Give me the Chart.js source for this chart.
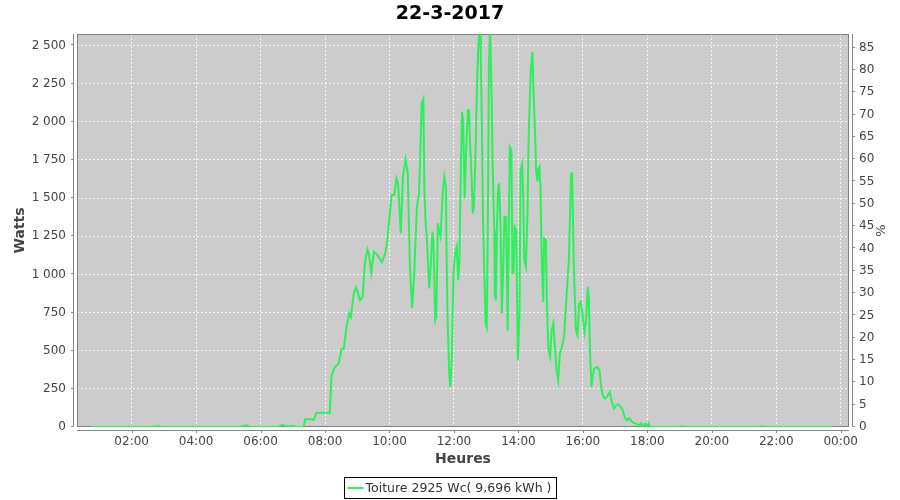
<!DOCTYPE html>
<html>
<head>
<meta charset="utf-8">
<script src="https://cdn.jsdelivr.net/npm/chart.js@4.4.1/dist/chart.umd.min.js"></script>
<style>
html,body{margin:0;padding:0;background:#fff;}
#wrap{width:900px;height:500px;}
</style>
</head>
<body>
<div id="wrap"><canvas id="c" width="900" height="500"></canvas></div>
<script>
const chartTitle = '22-3-2017';
const seriesLabel = 'Toiture 2925 Wc( 9,696 kWh )';
const xAxisTitle = 'Heures';
const yAxisTitle = 'Watts';
const y2AxisTitle = '%';
const peakPower = 2925;

const times = ['00:44','02:34','02:49','02:58','05:22','05:33','05:42','06:32','06:40','06:48','06:59','07:07',
'07:20','07:23','07:32','07:39','07:44','08:09','08:12','08:18','08:25','08:31','08:35','08:40','08:45','08:48',
'08:54','08:58','09:05','09:10','09:14','09:19','09:22','09:26','09:31','09:36','09:46','09:52','09:56','10:00',
'10:04','10:09','10:13','10:16','10:21','10:25','10:30','10:34','10:38','10:42','10:46','10:51','10:55','11:00',
'11:03','11:05','11:07','11:10','11:14','11:17','11:20','11:22','11:25','11:27','11:30','11:32','11:35','11:39',
'11:42','11:45','11:46','11:48','11:51','11:53','11:56','11:59','12:02','12:05','12:08','12:10','12:13','12:15',
'12:17','12:20','12:23','12:26','12:28','12:30','12:33','12:35','12:37','12:40','12:42','12:45','12:47','12:49',
'12:50','12:52','12:54','12:57','12:59','13:01','13:03','13:05','13:07','13:08','13:10','13:12','13:15','13:16',
'13:18','13:20','13:22','13:24','13:27','13:29','13:32','13:34','13:37','13:40','13:42','13:44','13:47','13:49',
'13:51','13:53','13:56','13:59','14:02','14:04','14:07','14:09','14:11','14:14','14:17','14:19','14:23','14:26',
'14:28','14:31','14:33','14:35','14:36','14:39','14:41','14:43','14:46','14:48','14:51','14:53','14:56','14:59',
'15:02','15:05','15:08','15:11','15:14','15:17','15:21','15:25','15:28','15:31','15:34','15:38','15:40','15:43',
'15:47','15:50','15:53','15:56','16:00','16:03','16:06','16:09','16:11','16:13','16:16','16:18','16:21','16:27',
'16:31','16:34','16:37','16:41','16:45','16:50','16:54','16:58','17:02','17:06','17:10','17:14','17:18','17:22',
'17:26','17:31','17:35','17:40','17:44','17:48','17:52','17:56','17:59','18:02','18:05','19:00','19:04','19:08',
'21:30','21:34','21:38','23:45'];

const watts = [0,0,5,0,0,10,0,0,12,3,8,0,
0,50,50,47,94,94,338,391,413,512,514,656,743,721,
885,915,830,852,1072,1164,1126,1009,1148,1133,1081,1137,1225,1377,
1520,1520,1629,1596,1268,1640,1753,1661,1050,780,1007,1443,1530,2120,
2150,1550,1355,1205,908,1072,1280,1205,700,722,1335,1290,1246,1530,
1640,1574,1205,722,372,262,437,1007,1137,1181,962,1072,1725,2064,
2010,1497,1857,2075,2075,1857,1617,1399,1443,1770,2120,2468,2590,2560,
2382,1989,1376,939,677,654,1290,2360,2590,2512,2185,1725,1290,875,
830,1290,1552,1596,1290,743,1072,1377,1377,633,1290,1835,1813,1007,
1007,1312,1290,437,743,1683,1725,1508,1094,1050,1421,1900,2338,2457,
2206,1922,1683,1617,1683,1705,1574,1181,820,1235,1225,810,505,460,
634,678,525,372,306,481,525,590,765,940,1094,1661,1661,1072,
634,602,809,820,721,623,700,918,852,525,262,328,383,394,
372,262,208,186,197,230,164,120,142,148,134,110,64,43,
58,38,25,21,5,25,3,21,3,25,0,0,5,0,
0,4,0,0];

const xTickHours = [2,4,6,8,10,12,14,16,18,20,22,24];
const wattTicks = [0,250,500,750,1000,1250,1500,1750,2000,2250,2500];
const percentTicks = [0,5,10,15,20,25,30,35,40,45,50,55,60,65,70,75,80,85];

const xMinHour = 0.304, xMaxHour = 24.257;
const wattMax = 2575;

function toHours(t){ const p = t.split(':'); return (+p[0]) + (+p[1])/60; }
const points = times.map((t,i)=>({x: toHours(t), y: watts[i]}));

function fmtWatt(v){
  if (v >= 1000) return Math.floor(v/1000) + ' ' + String(v%1000).padStart(3,'0');
  return String(v);
}
function fmtHour(v){ return String(v%24).padStart(2,'0') + ':00'; }

const FONT = 'DejaVu Sans';
const tickColor = '#444444';
const axisColor = '#888888';

const decor = {
  id: 'decor',
  beforeDraw(chart){
    const {ctx, chartArea:a} = chart;
    ctx.save();
    ctx.fillStyle = '#ffffff';
    ctx.fillRect(0,0,chart.width,chart.height);
    ctx.fillStyle = '#cccccc';
    ctx.fillRect(a.left, a.top, a.right-a.left, a.bottom-a.top);
    ctx.restore();
  },
  beforeDatasetsDraw(chart){
    const {ctx, chartArea:a} = chart;
    ctx.save();
    ctx.strokeStyle = '#808080';
    ctx.lineWidth = 1;
    ctx.strokeRect(a.left+0.5, a.top+0.5, a.right-a.left-1, a.bottom-a.top-1);
    ctx.restore();
  },
  afterDraw(chart){
    const {ctx, chartArea:a, scales} = chart;
    ctx.save();
    ctx.strokeStyle = axisColor;
    ctx.lineWidth = 1;
    const lx = a.left - 3.5;
    ctx.beginPath(); ctx.moveTo(lx, a.top); ctx.lineTo(lx, a.bottom); ctx.stroke();
    scales.y.ticks.forEach(t=>{ const p = Math.round(scales.y.getPixelForValue(t.value))-0.5;
      ctx.beginPath(); ctx.moveTo(lx-2.5,p); ctx.lineTo(lx,p); ctx.stroke(); });
    const rx = a.right + 3.5;
    ctx.beginPath(); ctx.moveTo(rx, a.top); ctx.lineTo(rx, a.bottom); ctx.stroke();
    scales.y1.ticks.forEach(t=>{ const p = Math.round(scales.y1.getPixelForValue(t.value))-0.5;
      ctx.beginPath(); ctx.moveTo(rx,p); ctx.lineTo(rx+2.5,p); ctx.stroke(); });
    const by = a.bottom + 3.5;
    ctx.beginPath(); ctx.moveTo(a.left, by); ctx.lineTo(a.right, by); ctx.stroke();
    scales.x.ticks.forEach(t=>{ const p = Math.round(scales.x.getPixelForValue(t.value))+0.5;
      ctx.beginPath(); ctx.moveTo(p,by); ctx.lineTo(p,by+2.5); ctx.stroke(); });

    ctx.fillStyle = '#000000';
    ctx.font = 'bold 19px "' + FONT + '"';
    ctx.textAlign = 'center'; ctx.textBaseline = 'middle';
    ctx.fillText(chartTitle, chart.width/2, 14);

    ctx.fillStyle = tickColor;
    ctx.font = 'bold 14px "' + FONT + '"';
    ctx.fillText(xAxisTitle, (a.left+a.right)/2, 459);
    ctx.save();
    ctx.translate(20, (a.top+a.bottom)/2);
    ctx.rotate(-Math.PI/2);
    ctx.fillText(yAxisTitle, 0, 0);
    ctx.restore();
    ctx.save();
    ctx.translate(882, (a.top+a.bottom)/2);
    ctx.rotate(-Math.PI/2);
    ctx.font = '13px "' + FONT + '"';
    ctx.fillText(y2AxisTitle, 0, 0);
    ctx.restore();

    const ds = chart.data.datasets[0];
    ctx.font = '12.5px "' + FONT + '"';
    const tw = ctx.measureText(ds.label).width;
    const boxW = Math.round(tw + 26);
    const bx = Math.round(chart.width/2 - boxW/2) + 0.5;
    const byy = 477.5, bh = 21;
    ctx.strokeStyle = '#000000';
    ctx.lineWidth = 1;
    ctx.strokeRect(bx, byy, boxW, bh);
    ctx.strokeStyle = ds.borderColor;
    ctx.lineWidth = 2;
    ctx.beginPath(); ctx.moveTo(bx+3, 488); ctx.lineTo(bx+19, 488); ctx.stroke();
    ctx.fillStyle = '#333333';
    ctx.textAlign = 'left'; ctx.textBaseline = 'middle';
    ctx.fillText(ds.label, bx+21, 488.5);
    ctx.restore();
  }
};

const gridCommon = { color: 'rgba(255,255,255,0.85)', lineWidth: 1, drawTicks: false };

new Chart(document.getElementById('c'), {
  type: 'line',
  data: {
    datasets: [{
      label: seriesLabel,
      data: points,
      borderColor: '#2cf05a',
      backgroundColor: '#2cf05a',
      borderWidth: 2,
      pointRadius: 0,
      fill: false,
      tension: 0,
      xAxisID: 'x',
      yAxisID: 'y'
    }]
  },
  options: {
    responsive: false,
    animation: false,
    devicePixelRatio: 1,
    events: [],
    layout: { padding: { top: 34, left: 0, right: 0, bottom: 0 } },
    plugins: { legend: { display: false }, title: { display: false }, tooltip: { enabled: false } },
    scales: {
      x: {
        type: 'linear', position: 'bottom', min: xMinHour, max: xMaxHour,
        grid: gridCommon,
        border: { display: false, dash: [2,2] },
        afterBuildTicks: s => { s.ticks = xTickHours.map(v=>({value:v})); },
        afterFit: s => { s.height = 73; },
        ticks: { autoSkip: false, maxRotation: 0, padding: 8, color: tickColor,
          font: { family: FONT, size: 12 }, callback: v => fmtHour(v) }
      },
      y: {
        type: 'linear', position: 'left', min: 0, max: wattMax,
        grid: gridCommon,
        border: { display: false, dash: [2,2] },
        afterBuildTicks: s => { s.ticks = wattTicks.map(v=>({value:v})); },
        afterFit: s => { s.width = 77; },
        ticks: { autoSkip: false, padding: 11, color: tickColor,
          font: { family: FONT, size: 12 }, callback: v => fmtWatt(v) }
      },
      y1: {
        type: 'linear', position: 'right', min: 0, max: wattMax / peakPower * 100,
        grid: { display: false, drawTicks: false },
        border: { display: false },
        afterBuildTicks: s => { s.ticks = percentTicks.map(v=>({value:v})); },
        afterFit: s => { s.width = 51; },
        ticks: { autoSkip: false, padding: 10, color: tickColor,
          font: { family: FONT, size: 12 }, callback: v => String(v) }
      }
    }
  },
  plugins: [decor]
});
</script>
</body>
</html>
